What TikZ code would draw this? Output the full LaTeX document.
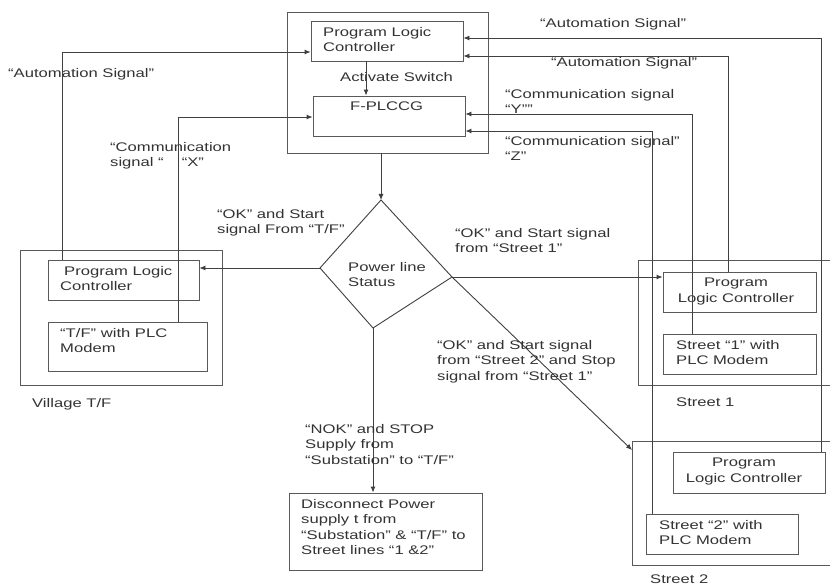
\documentclass[tikz,border=0pt]{standalone}
\usepackage{fontspec}
\setmainfont{Liberation Sans}[FakeStretch=1.33]
\usetikzlibrary{arrows.meta}

\tikzset{
  box/.style={draw=black!65, line width=0.9pt, inner sep=0pt},
  wire/.style={draw=black!75, line width=0.9pt},
  arr/.style={wire, -{Latex[length=6pt,width=5pt]}},
  lbl/.style={inner sep=0pt, anchor=north west, align=left, text=black!80,
              font=\fontsize{12.5}{15.5}\selectfont},
}

\begin{document}
\begin{tikzpicture}[x=1pt,y=-1pt]
  \clip (0,0) rectangle (830,588);
  \fill[white] (0,0) rectangle (830,588);

  % control room
  \node[box, minimum width=201pt, minimum height=141pt] (ctrl) at (387.5,82.5) {};
  \node[box, minimum width=152pt, minimum height=40pt] (tplc) at (387,41) {};
  \node[box, minimum width=152pt, minimum height=40pt] (fplc) at (389,116) {};
  \node[lbl] (tplctxt) at (323,27) {Program Logic\\Controller};
  \node[lbl] (act) at (340,72) {Activate Switch};
  \node[lbl] (fplctxt) at (350,102) {F-PLCCG};

  % village transformer
  \node[box, minimum width=202pt, minimum height=135pt] (vill) at (121,317.5) {};
  \node[box, minimum width=151pt, minimum height=40pt] (vplc) at (123.5,280) {};
  \node[box, minimum width=159pt, minimum height=49pt] (vmod) at (127.5,346.5) {};
  \node[lbl] (vplctxt) at (60,266) {\hspace{4pt}Program Logic\\Controller};
  \node[lbl] (vmodtxt) at (60,328) {“T/F” with PLC\\Modem};
  \node[lbl] (villtxt) at (32,398) {Village T/F};

  % street 1
  \draw[box] (860,260) -| (638,385) -- (860,385);
  \node[box, minimum width=153pt, minimum height=40pt] (s1plc) at (739.5,292) {};
  \node[box, minimum width=153pt, minimum height=40pt] (s1mod) at (739.5,354) {};
  \node[lbl, anchor=north, align=center] (s1plctxt) at (736,278) {Program\\Logic Controller};
  \node[lbl] (s1modtxt) at (676,340) {Street “1” with\\PLC Modem};
  \node[lbl] (s1txt) at (676,398) {Street 1};

  % street 2
  \draw[box] (860,441) -| (632,565) -- (860,565);
  \coordinate (s2in) at (632,450);
  \node[box, minimum width=152pt, minimum height=41pt] (s2plc) at (749,472.5) {};
  \node[box, minimum width=152pt, minimum height=40pt] (s2mod) at (722,534) {};
  \node[lbl, anchor=north, align=center] (s2plctxt) at (744,458) {Program\\Logic Controller};
  \node[lbl] (s2modtxt) at (659,520) {Street “2” with\\PLC Modem};
  \node[lbl] (s2txt) at (650,575) {Street 2};

  % disconnect
  \node[box, minimum width=193pt, minimum height=77pt] (disc) at (385.5,531.5) {};
  \node[lbl] (disctxt) at (301,499)
    {Disconnect Power\\supply t from\\“Substation” \& “T/F” to\\Street lines “1 \&2”};

  % power line status
  \coordinate (dtop) at (381,200);
  \coordinate (dleft) at (320,268);
  \coordinate (dright) at (452,277);
  \coordinate (dbot) at (373,328);
  \draw[wire] (dtop) -- (dright) -- (dbot) -- (dleft) -- cycle;
  \node[lbl] (pls) at (348,262) {Power line\\Status};

  % status flow
  \draw[arr] (366,0 |- tplc.south) -- (366,0 |- fplc.north);
  \draw[arr] (dtop |- ctrl.south) -- (dtop);
  \draw[arr] (dleft) -- (vplc.east |- dleft);
  \draw[arr] (dright) -- (s1plc.west |- dright);
  \draw[arr] (dright) -- (s2in);
  \draw[arr] (dbot) -- (dbot |- disc.north);

  % signal lines back to the control room
  \draw[arr] (62,0 |- vplc.north) |- (tplc.west |- 0,52);
  \draw[arr] (178,0 |- vmod.north) |- (fplc.west |- 0,117);
  \draw[arr] (821,0 |- s2plc.north) |- (tplc.east |- 0,38);
  \draw[arr] (728,0 |- s1plc.north) |- (tplc.east |- 0,56);
  \draw[arr] (692,0 |- s1mod.north) |- (fplc.east |- 0,114);
  \draw[arr] (652,0 |- s2mod.north) |- (fplc.east |- 0,131);

  % labels
  \node[lbl] (autoL) at (8,68) {“Automation Signal”};
  \node[lbl] (auto1) at (540,18) {“Automation Signal”};
  \node[lbl] (auto2) at (551,57) {“Automation Signal”};
  \node[lbl] (commx) at (110,142) {“Communication\\signal “\hspace{18pt}“X”};
  \node[lbl] (commy) at (505,89) {“Communication signal\\“Y””};
  \node[lbl] (commz) at (505,136) {“Communication signal”\\“Z”};
  \node[lbl] (oktf) at (217,209) {“OK” and Start\\signal From “T/F”};
  \node[lbl] (oks1) at (455,228) {“OK” and Start signal\\from “Street 1”};
  \node[lbl] (oks2) at (437,340) {“OK” and Start signal\\from “Street 2” and Stop\\signal from “Street 1”};
  \node[lbl] (nok) at (305,424) {“NOK” and STOP\\Supply from\\“Substation” to “T/F”};
\end{tikzpicture}
\end{document}
